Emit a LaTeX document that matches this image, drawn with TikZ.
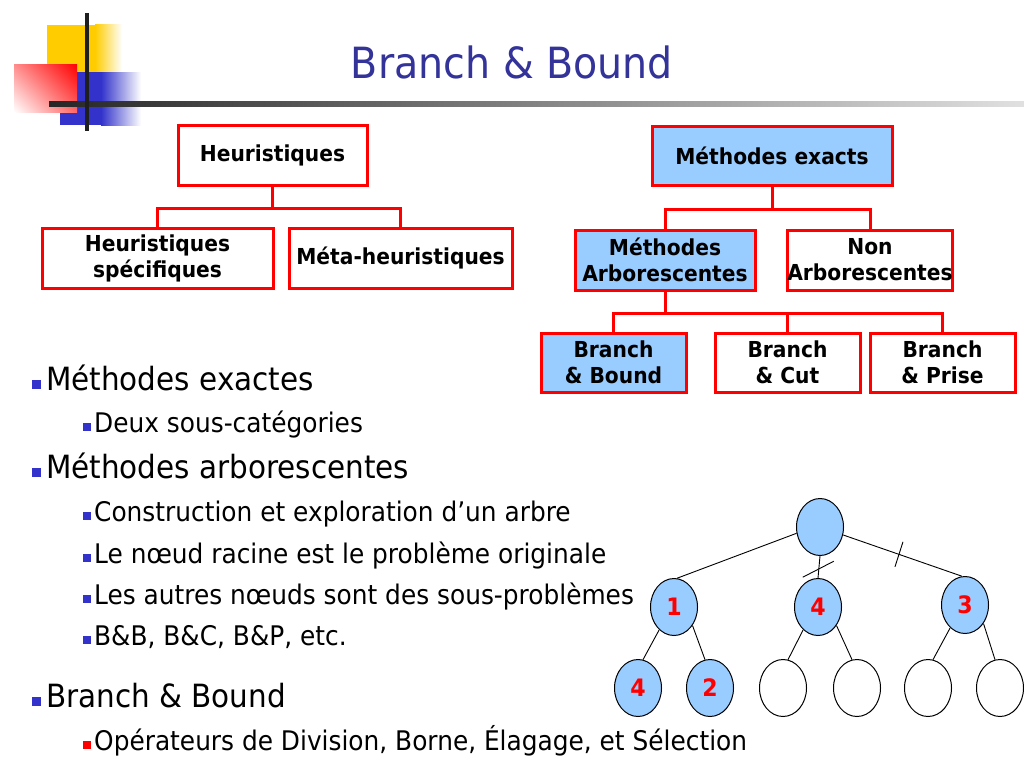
\documentclass[tikz,border=0pt]{standalone}
\usepackage{fontspec}
\setmainfont{DejaVu Sans}[FakeStretch=0.92]
\usetikzlibrary{shapes.geometric,shadings}
\definecolor{ttl}{HTML}{333399}
\definecolor{bul}{HTML}{3333CC}
\definecolor{lb}{HTML}{99CCFF}
\definecolor{bred}{HTML}{FF0000}
\definecolor{logoY}{HTML}{FFCC00}
\begin{document}
\begin{tikzpicture}[x=1pt,y=-1pt,
  box/.style={draw=bred, line width=3pt, align=center, inner sep=0pt, font=\fontsize{22}{26}\selectfont\bfseries, text=black},
  boxb/.style={box, fill=lb},
  conn/.style={draw=bred, line width=3pt},
  tn/.style={ellipse, draw=black, line width=1pt, minimum width=47pt, minimum height=57pt, inner sep=0pt, font=\fontsize{24}{24}\selectfont\bfseries, text=bred},
  tnb/.style={tn, fill=lb},
  edge/.style={draw=black, line width=0.9pt},
  lone/.style={anchor=base west, inner sep=0pt, font=\fontsize{32}{36}\selectfont},
  ltwo/.style={anchor=base west, inner sep=0pt, font=\fontsize{27}{30}\selectfont},
]
\useasboundingbox (0,0) rectangle (1024,768);
\fill[white] (0,0) rectangle (1024,768);

% logo
\fill[logoY] (47,25) rectangle (95,72);
\shade[left color=logoY, right color=white] (95,25) rectangle (122,72);
\fill[bul] (60,72) rectangle (101,125);
\shade[left color=bul, right color=white] (101,72) rectangle (141,125);
\shade[upper right=bred, lower left=white, upper left=bred!45!white, lower right=bred!60!white] (14,64) rectangle (77,112);
\shade[left color=black!85, right color=black!12] (49,101) rectangle (1024,106);
\fill[black!88] (85,13) rectangle (89,131);

% title
\node[font=\fontsize{43}{43}\selectfont, text=ttl, anchor=base, inner sep=0pt] (title) at (512,78) {Branch \& Bound};

% left hierarchy
\node[box, minimum width=189pt, minimum height=60pt] (heur) at (272.5,155) {Heuristiques};
\node[box, minimum width=231pt, minimum height=60pt] (hspec) at (157.5,258) {Heuristiques\\spécifiques};
\node[box, minimum width=223pt, minimum height=60pt] (meta) at (400.5,258) {Méta-heuristiques};
\draw[conn] (heur.south) -- ++(0,22) coordinate (hj) -| (hspec.north);
\draw[conn] (hj) -| (meta.north);

% right hierarchy
\node[boxb, minimum width=240pt, minimum height=59pt] (mex) at (772,155.5) {Méthodes exacts};
\node[boxb, minimum width=180pt, minimum height=60pt] (marb) at (665,260) {Méthodes\\Arborescentes};
\node[box, minimum width=164pt, minimum height=60pt] (narb) at (870,260) {Non\\Arborescentes};
\node[boxb, minimum width=145pt, minimum height=59pt] (bb) at (613.5,362.5) {Branch\\\& Bound};
\node[box, minimum width=145pt, minimum height=59pt] (bc) at (787.5,362.5) {Branch\\\& Cut};
\node[box, minimum width=145pt, minimum height=59pt] (bp) at (942.5,362.5) {Branch\\\& Prise};
\draw[conn] (mex.south) -- ++(0,23) coordinate (mj) -| (marb.north);
\draw[conn] (mj) -| (narb.north);
\draw[conn] (marb.south) -- ++(0,22) coordinate (aj) -| (bb.north);
\draw[conn] (aj) -| (bc.north);
\draw[conn] (aj) -| (bp.north);

% bullets
\node[lone] (t1) at (46,390) {Méthodes exactes};
\fill[bul] (32,380) rectangle (41,389);
\node[ltwo] (t2) at (94,432) {Deux sous-catégories};
\fill[bul] (83,423) rectangle (91,431);
\node[lone] (t3) at (46,478) {Méthodes arborescentes};
\fill[bul] (32,468) rectangle (41,477);
\node[ltwo] (t4) at (94,521) {Construction et exploration d’un arbre};
\fill[bul] (83,512) rectangle (91,520);
\node[ltwo] (t5) at (94,563) {Le nœud racine est le problème originale};
\fill[bul] (83,554) rectangle (91,562);
\node[ltwo] (t6) at (94,604) {Les autres nœuds sont des sous-problèmes};
\fill[bul] (83,595) rectangle (91,603);
\node[ltwo] (t7) at (94,645) {B\&B, B\&C, B\&P, etc.};
\fill[bul] (83,636) rectangle (91,644);
\node[lone] (t8) at (46,707) {Branch \& Bound};
\fill[bul] (32,697) rectangle (41,706);
\node[ltwo] (t9) at (94,750) {Opérateurs de Division, Borne, Élagage, et Sélection};
\fill[bred] (83,741) rectangle (91,749);

% tree
\node[tnb] (root) at (820,527) {};
\node[tnb] (n1) at (674,607) {1};
\node[tnb] (n4) at (818,607) {4};
\node[tnb] (n3) at (965,605) {3};
\node[tnb] (c1) at (638,688) {4};
\node[tnb] (c2) at (710,688) {2};
\node[tn] (e1) at (783,688) {};
\node[tn] (e2) at (857,688) {};
\node[tn] (e3) at (928,688) {};
\node[tn] (e4) at (1000,688) {};
\draw[edge] (root.195) -- (n1.84);
\draw[edge] (root.south) -- coordinate[pos=0.6] (cutA) (n4.north);
\draw[edge] (root.341) -- coordinate[pos=0.47] (cutB) (n3.96);
\draw[edge] (cutA) ++(-16,8) -- ++(31,-16);
\draw[edge] (cutB) ++(-4,12.5) -- ++(8,-25);
\draw[edge] (n1.237) -- (c1.80);
\draw[edge] (n1.315) -- (c2.100);
\draw[edge] (n4.237) -- (e1.80);
\draw[edge] (n4.315) -- (e2.100);
\draw[edge] (n3.237) -- (e3.80);
\draw[edge] (n3.315) -- (e4.100);
\end{tikzpicture}
\end{document}
